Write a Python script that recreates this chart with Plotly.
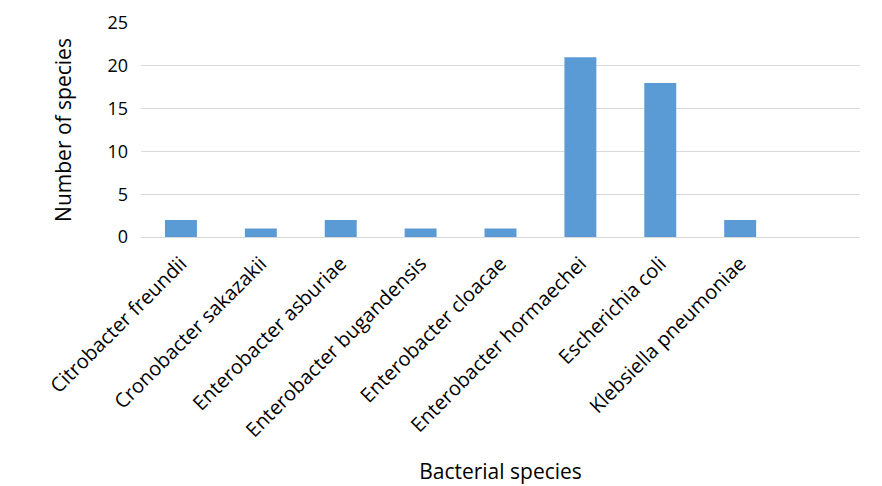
import plotly.graph_objects as go

categories = ["Citrobacter freundii", "Cronobacter sakazakii", "Enterobacter asburiae",
              "Enterobacter bugandensis", "Enterobacter cloacae", "Enterobacter hormaechei",
              "Escherichia coli", "Klebsiella pneumoniae", " "]
counts = [2, 1, 2, 1, 1, 21, 18, 2, None]
y_ticks = [0, 5, 10, 15, 20, 25]

fig = go.Figure(go.Bar(x=categories, y=counts, marker_color="#5b9bd5",
                       marker_line_width=0, width=0.4))

fig.update_layout(
    width=882, height=486,
    margin=dict(l=133, r=30, t=15, b=257),
    plot_bgcolor="white", paper_bgcolor="white",
    font=dict(family="Open Sans", color="#000000", size=18),
    showlegend=False,
)
fig.update_xaxes(
    type="category", tickangle=-45, showgrid=False, automargin=False,
    showline=True, linecolor="#d9d9d9", linewidth=1,
    ticks="", tickfont=dict(size=20), ticklabelstandoff=6,
    title=dict(text="Bacterial species", font=dict(size=21), standoff=22),
    range=[-0.5, 8.5],
)
fig.update_yaxes(
    range=[0, 25], tickvals=y_ticks, showgrid=True, gridcolor="#d9d9d9", gridwidth=1,
    zeroline=False, showline=False, ticks="", tickfont=dict(size=18), automargin=False,
    ticklabelstandoff=12,
    title=dict(text="Number of species", font=dict(size=21), standoff=30),
)
fig.write_html("out.html")
